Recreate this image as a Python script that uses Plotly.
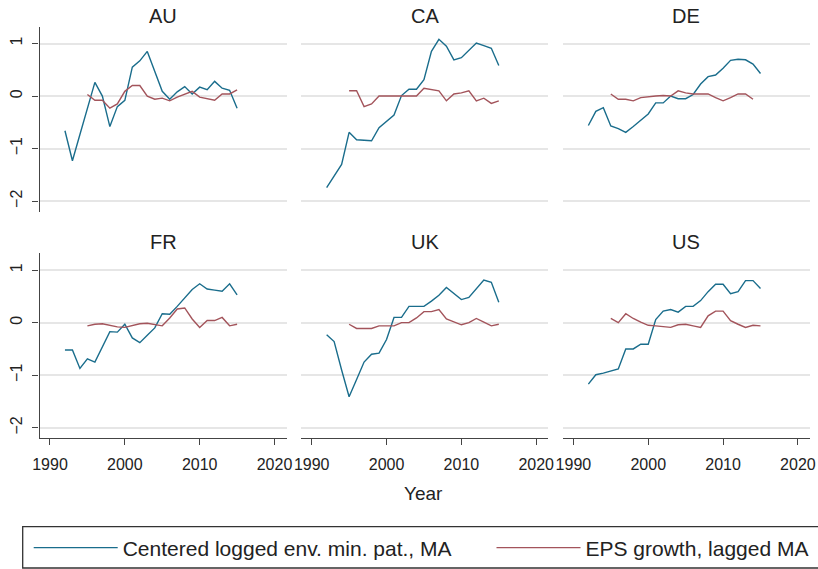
import plotly.graph_objects as go

countries = ["AU", "CA", "DE", "FR", "UK", "US"]
env_years = list(range(1992, 2016))
eps_years = list(range(1995, 2016))

AU_env = [-0.66, -1.23, -0.73, -0.24, 0.26, 0.0, -0.58, -0.2, -0.08, 0.55, 0.67, 0.85,
          0.47, 0.09, -0.06, 0.08, 0.18, 0.04, 0.17, 0.12, 0.28, 0.15, 0.11, -0.23]
AU_eps = [0.03, -0.08, -0.08, -0.23, -0.15, 0.09, 0.2, 0.2, 0.0, -0.06, -0.04, -0.09,
          -0.02, 0.04, 0.09, -0.02, -0.05, -0.08, 0.04, 0.04, 0.12]
CA_env = [-1.74, -1.53, -1.3, -0.69, -0.83, -0.84, -0.85, -0.6, -0.48, -0.36, 0.01, 0.13,
          0.13, 0.31, 0.85, 1.08, 0.95, 0.69, 0.73, 0.87, 1.01, 0.96, 0.91, 0.58]
CA_eps = [0.1, 0.1, -0.2, -0.15, 0.0, 0.0, 0.0, 0.0, 0.0, 0.0, 0.15, 0.12, 0.1, -0.09,
          0.04, 0.06, 0.1, -0.09, -0.04, -0.14, -0.09]
DE_env = [-0.56, -0.29, -0.22, -0.57, -0.62, -0.69, -0.58, -0.46, -0.34, -0.13, -0.13, 0.0,
          -0.05, -0.05, 0.03, 0.23, 0.37, 0.4, 0.53, 0.68, 0.7, 0.69, 0.61, 0.43]
DE_eps = [0.04, -0.06, -0.06, -0.09, -0.03, -0.01, 0.0, 0.01, 0.0, 0.1, 0.06, 0.04, 0.04,
          0.04, -0.03, -0.09, -0.03, 0.04, 0.04, -0.06]
FR_env = [-0.52, -0.52, -0.87, -0.69, -0.75, -0.46, -0.17, -0.18, -0.03, -0.29, -0.38, -0.24,
          -0.1, 0.17, 0.16, 0.31, 0.47, 0.63, 0.74, 0.64, 0.62, 0.6, 0.74, 0.53]
FR_eps = [-0.06, -0.03, -0.02, -0.05, -0.08, -0.09, -0.06, -0.02, -0.01, -0.03, -0.06, 0.09,
          0.26, 0.28, 0.07, -0.09, 0.04, 0.04, 0.1, -0.06, -0.03]
UK_env = [-0.23, -0.36, -0.9, -1.41, -1.08, -0.75, -0.6, -0.58, -0.32, 0.1, 0.1, 0.31,
          0.31, 0.31, 0.41, 0.52, 0.67, 0.55, 0.44, 0.48, 0.64, 0.81, 0.77, 0.39]
UK_eps = [-0.03, -0.11, -0.11, -0.11, -0.06, -0.06, -0.06, 0.0, 0.0, 0.09, 0.21, 0.21, 0.25,
          0.07, 0.01, -0.04, 0.0, 0.08, 0.01, -0.06, -0.03]
US_env = [-1.17, -0.99, -0.96, -0.92, -0.88, -0.5, -0.5, -0.41, -0.41, 0.06, 0.22, 0.25,
          0.2, 0.31, 0.31, 0.42, 0.59, 0.73, 0.73, 0.55, 0.59, 0.8, 0.8, 0.65]
US_eps = [0.08, 0.0, 0.17, 0.08, 0.01, -0.05, -0.06, -0.08, -0.09, -0.04, -0.03, -0.06,
          -0.09, 0.13, 0.22, 0.22, 0.04, -0.03, -0.09, -0.05, -0.06]

env_series = {"AU": AU_env, "CA": CA_env, "DE": DE_env, "FR": FR_env, "UK": UK_env, "US": US_env}
eps_series = {"AU": AU_eps, "CA": CA_eps, "DE": DE_eps, "FR": FR_eps, "UK": UK_eps, "US": US_eps}

y_ticks = [-2, -1, 0, 1]
y_tick_text = ["\u22122", "\u22121", "0", "1"]
x_ticks = [1990, 2000, 2010, 2020]
env_name = "Centered logged env. min. pat., MA"
eps_name = "EPS growth, lagged MA"

BLUE = "#1a6d8c"
RED = "#a3545b"
W, H = 818, 569
FONT = "Liberation Sans, Arial, sans-serif"

col_left = [39.5, 301.2, 562.9]
col_w = 247
row_top = [26.7, 253.3]
row_h = 185.0

fig = go.Figure()
layout = dict(
    width=W, height=H,
    margin=dict(l=0, r=0, t=0, b=0, autoexpand=False),
    paper_bgcolor="white", plot_bgcolor="white",
    font=dict(family=FONT, color="#222222"),
    annotations=[],
)

for i, c in enumerate(countries):
    r, k = divmod(i, 3)
    n = i + 1
    xa = "xaxis" if n == 1 else f"xaxis{n}"
    ya = "yaxis" if n == 1 else f"yaxis{n}"
    xr = "x" if n == 1 else f"x{n}"
    yr = "y" if n == 1 else f"y{n}"
    x0 = col_left[k] / W
    x1 = (col_left[k] + col_w) / W
    y1 = 1 - row_top[r] / H
    y0 = 1 - (row_top[r] + row_h) / H
    layout[xa] = dict(
        domain=[x0, x1], anchor=yr, range=[1988.6, 2021.6],
        showgrid=False, zeroline=False, automargin=False,
        tickvals=x_ticks, showticklabels=(r == 1),
        ticks="outside" if r == 1 else "", ticklen=6, tickwidth=1.3, tickcolor="#444",
        showline=(r == 1), linecolor="#444", linewidth=1.3,
        tickfont=dict(size=16, color="#222"), ticklabelstandoff=5,
    )
    layout[ya] = dict(
        domain=[y0, y1], anchor=xr, range=[-2.2, 1.32],
        showgrid=True, gridcolor="#e6e6e6", gridwidth=1.5, zeroline=False, automargin=False,
        tickvals=y_ticks, ticktext=y_tick_text, showticklabels=(k == 0),
        ticks="outside" if k == 0 else "", ticklen=6, tickwidth=1.3, tickcolor="#444",
        showline=(k == 0), linecolor="#444", linewidth=1.3,
        tickangle=-90, tickfont=dict(size=16, color="#222"), ticklabelstandoff=4,
    )
    layout["annotations"].append(dict(
        text=c, x=(x0 + x1) / 2, y=1 - 15.8 / H if r == 0 else 1 - (253.3 - 11) / H,
        xref="paper", yref="paper",
        xanchor="center", yanchor="middle", showarrow=False,
        font=dict(size=20, family=FONT, color="#222")))
    fig.add_trace(go.Scatter(
        x=env_years, y=env_series[c], mode="lines", name=env_name,
        line=dict(color=BLUE, width=1.4), xaxis=xr, yaxis=yr,
        showlegend=(i == 0), legend="legend"))
    fig.add_trace(go.Scatter(
        x=eps_years[:len(eps_series[c])], y=eps_series[c], mode="lines", name=eps_name,
        line=dict(color=RED, width=1.4), xaxis=xr, yaxis=yr,
        showlegend=(i == 0), legend="legend2"))

layout["annotations"].append(dict(
    text="Year", x=424 / W, y=1 - 493 / H, xref="paper", yref="paper",
    xanchor="center", yanchor="middle", showarrow=False,
    font=dict(size=19, family=FONT, color="#222")))

# legend frame
layout["shapes"] = [dict(
    type="rect", xref="paper", yref="paper",
    x0=22.7 / W, x1=1.05, y0=1 - 568.0 / H, y1=1 - 526.7 / H,
    line=dict(color="#333", width=1.3), fillcolor="rgba(0,0,0,0)", layer="below")]

leg_common = dict(
    orientation="h", yanchor="middle", xanchor="left", y=1 - 548 / H,
    borderwidth=0, bgcolor="rgba(0,0,0,0)",
    font=dict(size=21, family=FONT, color="#222"), itemwidth=84,
)
layout["legend"] = dict(x=28.7 / W, **leg_common)
layout["legend2"] = dict(x=491.5 / W, **leg_common)

fig.update_layout(**layout)
fig.write_html("out.html", post_script="document.body.style.margin='0px';",
               config={"displayModeBar": False})
